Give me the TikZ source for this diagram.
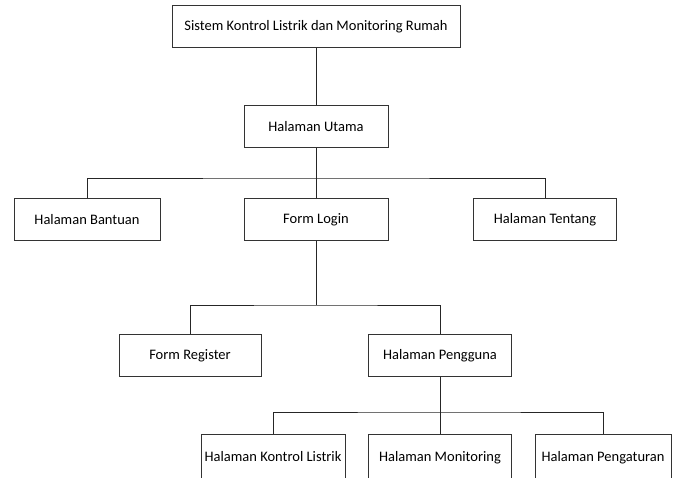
\documentclass[tikz,border=0pt]{standalone}
\usepackage{fontspec}
\setmainfont{Carlito}
\begin{document}
\begin{tikzpicture}[x=1pt,y=-1pt,
  txt/.style={font=\fontsize{14.5}{16}\selectfont},
  box/.style={txt, draw=black!80, line width=0.9pt, fill=white, minimum height=42pt, inner sep=0pt, anchor=north},
  link/.style={draw=black!85, line width=0.9pt}]
\useasboundingbox (0,0) rectangle (686,477);
\begin{scope}
\clip (0,0) rectangle (686,477);
\node[box, minimum width=288pt] (root) at (316,5) {Sistem Kontrol Listrik dan Monitoring Rumah};
\node[box, minimum width=144pt] (utama) at (316,105) {Halaman Utama};
\node[box, minimum width=146pt] (bantuan) at (87,198) {Halaman Bantuan};
\node[box, minimum width=144pt] (login) at (316,198) {Form Login};
\node[box, minimum width=143pt] (tentang) at (545,198) {Halaman Tentang};
\node[box, minimum width=142pt] (register) at (190,334) {Form Register};
\node[box, minimum width=143pt] (pengguna) at (440,334) {Halaman Pengguna};
\node[box, minimum width=144pt, minimum height=60pt] (kontrol) at (273,434) {};
\node[box, minimum width=143pt, minimum height=60pt] (monitor) at (440,434) {};
\node[box, minimum width=136pt, minimum height=60pt] (atur) at (603,434) {};
\node[txt, anchor=base] (tk) at (273,461) {Halaman Kontrol Listrik};
\node[txt, anchor=base] (tm) at (440,461) {Halaman Monitoring};
\node[txt, anchor=base] (ta) at (603,461) {Halaman Pengaturan};
\end{scope}
\coordinate (b1) at (316,178);
\coordinate (b2) at (316,305);
\coordinate (b3) at (440,412);
\draw[link] (root.south) -- (utama.north);
\draw[link] (utama.south) -- (login.north);
\draw[link] (bantuan.north) |- (b1) -| (tentang.north);
\draw[link] (login.south) -- (b2);
\draw[link] (register.north) |- (b2) -| (pengguna.north);
\draw[link] (pengguna.south) -- (monitor.north);
\draw[link] (kontrol.north) |- (b3) -| (atur.north);
\end{tikzpicture}
\end{document}
